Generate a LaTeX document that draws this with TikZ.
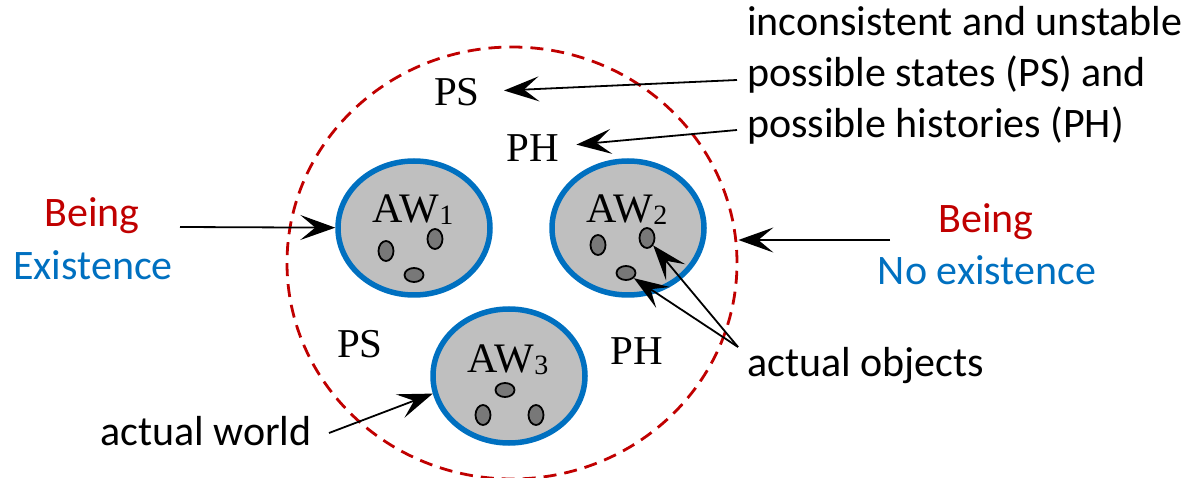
\documentclass[tikz,border=0pt]{standalone}
\usepackage{fontspec}
\setmainfont{Liberation Serif}
\newfontfamily\calfont{Carlito}
\usetikzlibrary{shapes.geometric,arrows.meta}
\definecolor{cred}{RGB}{192,0,0}
\definecolor{cblue}{RGB}{0,112,192}
\definecolor{cgray}{RGB}{191,191,191}
\definecolor{cdot}{RGB}{120,120,120}
\begin{document}
\begin{tikzpicture}[x=1pt,y=-1pt,
 world/.style={ellipse,draw=cblue,line width=5.5pt,fill=cgray,minimum width=152pt,minimum height=134pt,inner sep=0pt},
 vdot/.style={ellipse,draw=black,line width=1.8pt,fill=cdot,minimum width=15pt,minimum height=20pt,inner sep=0pt},
 hdot/.style={ellipse,draw=black,line width=1.8pt,fill=cdot,minimum width=19pt,minimum height=14pt,inner sep=0pt},
 serif/.style={font=\fontsize{41}{41}\selectfont,anchor=base,inner ysep=0pt},
 awlab/.style={font=\fontsize{42}{42}\selectfont,anchor=base,inner sep=0pt},
 sans/.style={font=\calfont\fontsize{42}{51}\selectfont,inner sep=0pt},
 arr/.style={line width=1.8pt,-{Stealth[length=35pt,width=25pt,inset=15pt]}},
]
\useasboundingbox (0,0) rectangle (1189,478);
\node[ellipse,draw=cred,line width=2.8pt,dash pattern=on 13pt off 8pt,minimum width=450pt,minimum height=432pt,inner sep=0pt] (U) at (512,263) {};
% worlds
\node[world] (AW1) at (414,228) {};
\node[world] (AW2) at (628,228) {};
\node[world] (AW3) at (509,376) {};
\node[awlab] (L1) at (413,223) {AW\raisebox{-2pt}{\fontsize{28}{28}\selectfont 1}};
\node[awlab] (L2) at (627,223) {AW\raisebox{-2pt}{\fontsize{28}{28}\selectfont 2}};
\node[awlab] (L3) at (508,372) {AW\raisebox{-2pt}{\fontsize{28}{28}\selectfont 3}};
% objects
\node[vdot] (d11) at (386,251) {};
\node[vdot] (d12) at (435,239) {};
\node[hdot] (d13) at (414,275) {};
\node[vdot] (d21) at (598,245) {};
\node[vdot] (d22) at (647,238) {};
\node[hdot] (d23) at (626,273) {};
\node[hdot] (d31) at (505,390) {};
\node[vdot] (d32) at (483,415) {};
\node[vdot] (d33) at (536,415) {};
% PS / PH labels
\node[serif,inner xsep=24pt] (PS1) at (457,106) {PS};
\node[serif,inner xsep=17pt] (PH1) at (533,162) {PH};
\node[serif,inner xsep=0pt] (PS2) at (360,358) {PS};
\node[serif,inner xsep=0pt] (PH2) at (637,364) {PH};
% texts
\node[sans,anchor=base west,align=left] (T) at (747,138) {inconsistent and unstable\\possible states (PS) and\\possible histories (PH)};
\node[sans,text=cred,anchor=base] (BL) at (92,227) {Being};
\node[sans,text=cblue,anchor=base] (EL) at (93,280) {Existence};
\node[sans,text=cred,anchor=base] (BR) at (986,233) {Being};
\node[sans,text=cblue,anchor=base] (NE) at (987,285) {No existence};
\node[sans,anchor=base west] (AO) at (747,377) {actual objects};
\node[sans,anchor=base west] (AWT) at (100,445) {actual world};
% arrow start points
\coordinate (sPS) at (737,80);
\coordinate (sPH) at (737,130);
\coordinate (bL) at (180,227);
\coordinate (bR) at (890,240);
\coordinate (sAW) at (329,433);
\coordinate (sAO) at (738,347);
% arrows
\draw[arr] (sPS) -- (PS1);
\draw[arr] (sPH) -- (PH1);
\draw[arr] (bL) -- (AW1);
\draw[arr] (bR) -- (bR -| U.east);
\draw[arr] (sAW) -- (AW3.193);
\draw[arr] (sAO) -- (d22);
\draw[arr] (sAO) -- (d23);
\end{tikzpicture}
\end{document}
